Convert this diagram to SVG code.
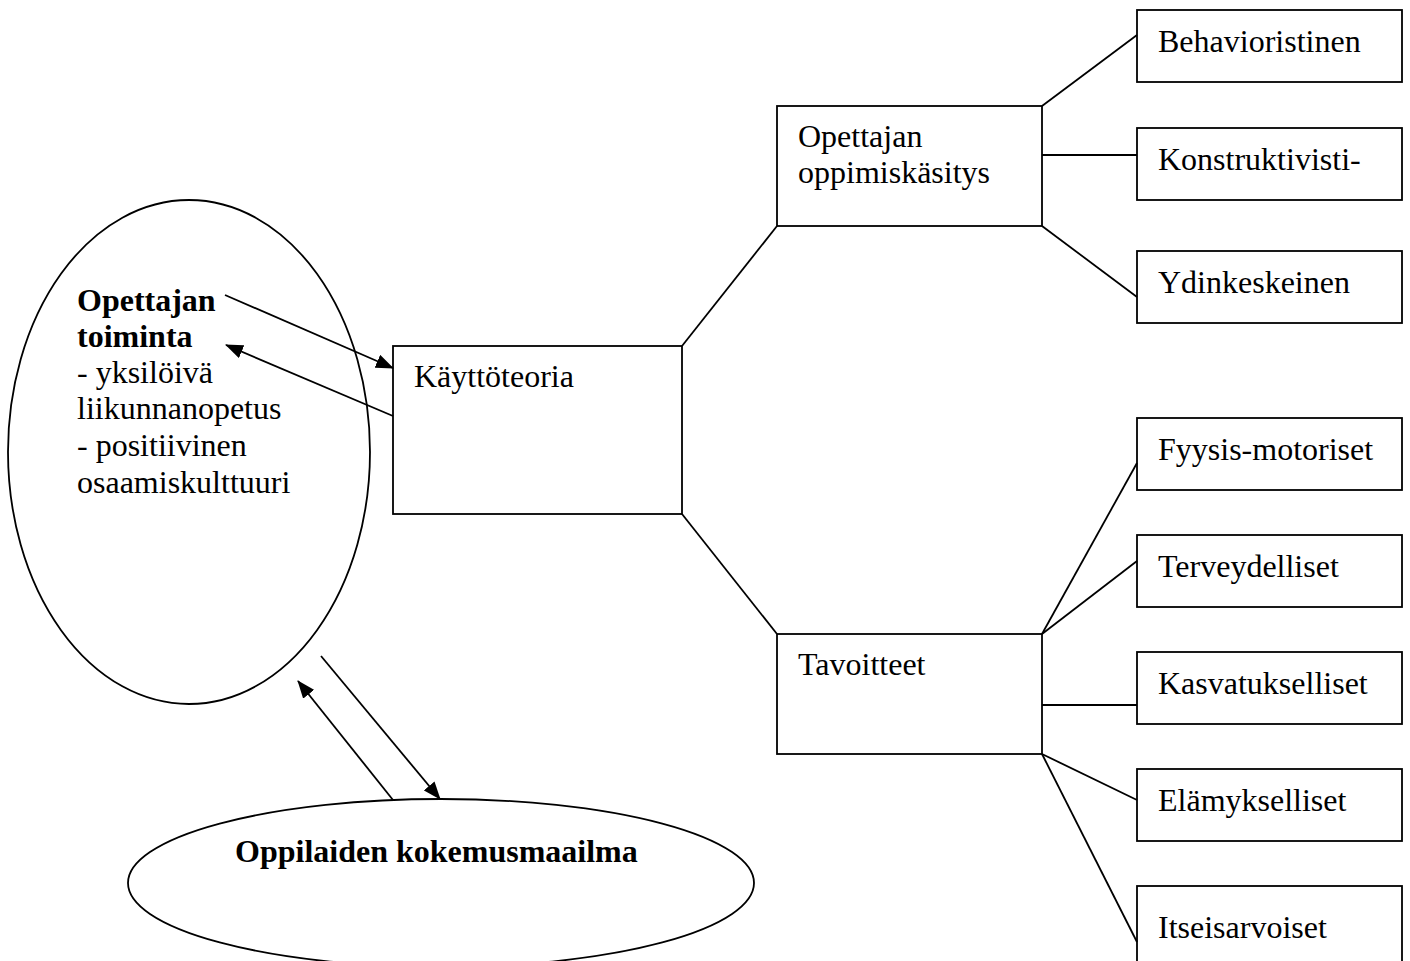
<svg xmlns="http://www.w3.org/2000/svg" width="1410" height="961" viewBox="0 0 1410 961">
<style>
.s{fill:#fff;stroke:#000;stroke-width:1.8}
.c{fill:none;stroke:#000;stroke-width:1.8}
text{font-family:"Liberation Serif","Times New Roman",serif;font-size:32px;fill:#000}
.b{font-weight:bold}
</style>
<defs>
<marker id="ah" markerWidth="18" markerHeight="14" refX="17" refY="7" orient="auto" markerUnits="userSpaceOnUse">
<path d="M0,0 L18,7 L0,14 Z" fill="#000"/>
</marker>
</defs>
<rect width="1410" height="961" fill="#fff"/>
<g id="toiminta">
<ellipse class="s" cx="189" cy="452" rx="181" ry="252"/>
<text x="77" y="311" class="b">Opettajan</text>
<text x="77" y="347" class="b">toiminta</text>
<text x="77" y="383">- yksilöivä</text>
<text x="77" y="419">liikunnanopetus</text>
<text x="77" y="456">- positiivinen</text>
<text x="77" y="493">osaamiskulttuuri</text>
</g>
<g id="kokemusmaailma">
<ellipse class="s" cx="441" cy="883" rx="313" ry="84"/>
<text x="235" y="862" class="b">Oppilaiden kokemusmaailma</text>
</g>
<g id="kayttoteoria">
<rect class="s" x="393" y="346" width="289" height="168"/>
<text x="414" y="387">Käyttöteoria</text>
</g>
<g id="oppimiskasitys">
<rect class="s" x="777" y="106" width="265" height="120"/>
<text x="798" y="147">Opettajan</text>
<text x="798" y="183">oppimiskäsitys</text>
</g>
<g id="tavoitteet">
<rect class="s" x="777" y="634" width="265" height="120"/>
<text x="798" y="675">Tavoitteet</text>
</g>
<g id="behavioristinen"><rect class="s" x="1137" y="10" width="265" height="72"/><text x="1158" y="52">Behavioristinen</text></g>
<g id="konstruktivisti"><rect class="s" x="1137" y="128" width="265" height="72"/><text x="1158" y="170">Konstruktivisti-</text></g>
<g id="ydinkeskeinen"><rect class="s" x="1137" y="251" width="265" height="72"/><text x="1158" y="293">Ydinkeskeinen</text></g>
<g id="fyysis"><rect class="s" x="1137" y="418" width="265" height="72"/><text x="1158" y="460">Fyysis-motoriset</text></g>
<g id="terveydelliset"><rect class="s" x="1137" y="535" width="265" height="72"/><text x="1158" y="577">Terveydelliset</text></g>
<g id="kasvatukselliset"><rect class="s" x="1137" y="652" width="265" height="72"/><text x="1158" y="694">Kasvatukselliset</text></g>
<g id="elamykselliset"><rect class="s" x="1137" y="769" width="265" height="72"/><text x="1158" y="811">Elämykselliset</text></g>
<g id="itseisarvoiset"><rect class="s" x="1137" y="886" width="265" height="90"/><text x="1158" y="938">Itseisarvoiset</text></g>
<g id="connectors">
<line class="c" x1="225" y1="295" x2="393" y2="368" marker-end="url(#ah)"/>
<line class="c" x1="393" y1="416" x2="226" y2="345" marker-end="url(#ah)"/>
<line class="c" x1="321" y1="656" x2="440" y2="799" marker-end="url(#ah)"/>
<line class="c" x1="393" y1="800" x2="298" y2="681" marker-end="url(#ah)"/>
<line class="c" x1="682" y1="346" x2="777" y2="226"/>
<line class="c" x1="682" y1="514" x2="777" y2="634"/>
<line class="c" x1="1042" y1="106" x2="1137" y2="35"/>
<line class="c" x1="1042" y1="155" x2="1137" y2="155"/>
<line class="c" x1="1042" y1="226" x2="1137" y2="297"/>
<line class="c" x1="1042" y1="634" x2="1137" y2="463"/>
<line class="c" x1="1042" y1="634" x2="1137" y2="561"/>
<line class="c" x1="1042" y1="705" x2="1137" y2="705"/>
<line class="c" x1="1042" y1="754" x2="1137" y2="800"/>
<line class="c" x1="1042" y1="754" x2="1137" y2="942"/>
</g>
</svg>
